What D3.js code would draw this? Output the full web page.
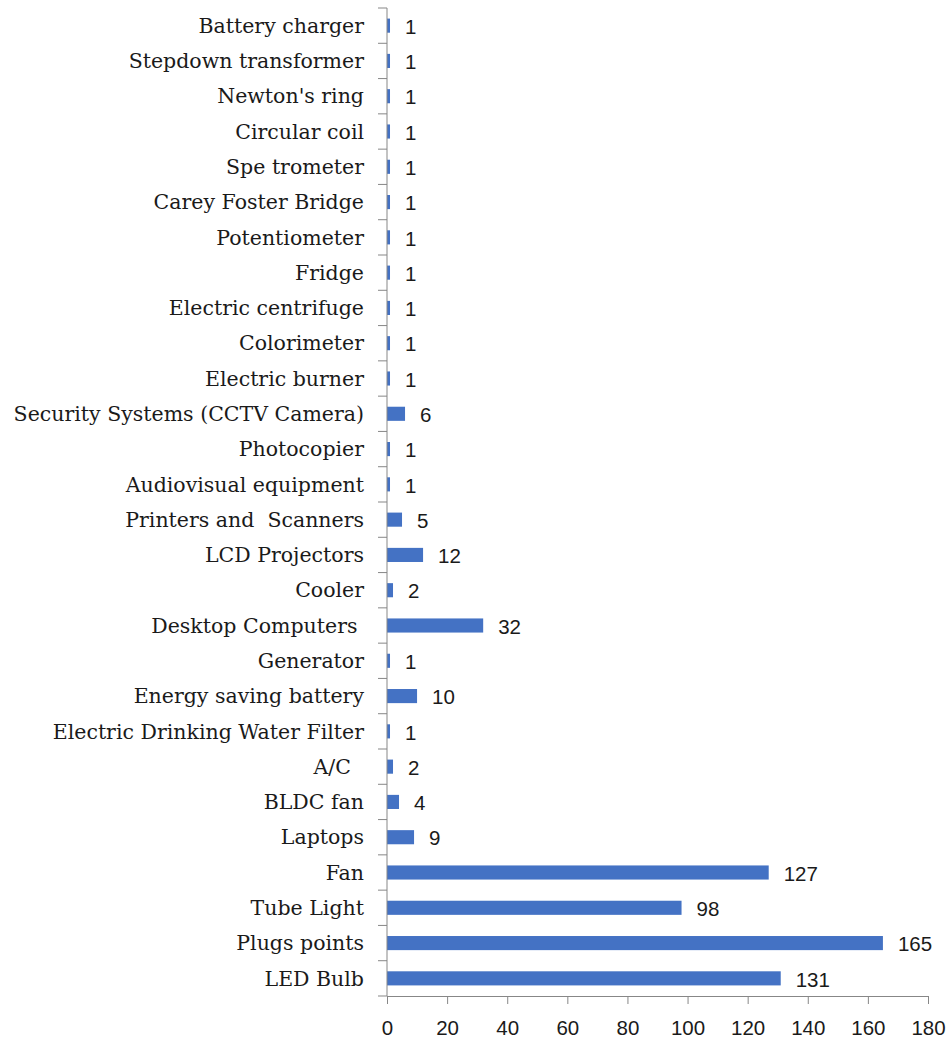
<!DOCTYPE html>
<html>
  <head>
    <meta charset="utf-8" />
    <style>
      body{
        margin: 0;
        background: white;
      }
      .cat-label{
        font-family: 'DejaVu Serif', serif;
        font-size: 20.5px;
        fill: #1a1a1a;
        white-space: pre;
      }
      .val-label, .tick-label{
        font-family: 'Liberation Sans', sans-serif;
        font-size: 20.5px;
        fill: #1a1a1a;
      }
    </style>
  </head>
  <body>
    <script src="https://d3js.org/d3.v7.min.js"></script>
    <svg id="chart"></svg>
    <script>
      var width = 951;
      var height = 1044;

      // bottom to top, as in the picture
      var categories = [
        "LED Bulb", "Plugs points", "Tube Light", "Fan", "Laptops", "BLDC fan",
        "A/C  ", "Electric Drinking Water Filter", "Energy saving battery",
        "Generator", "Desktop Computers ", "Cooler", "LCD Projectors",
        "Printers and  Scanners", "Audiovisual equipment", "Photocopier",
        "Security Systems (CCTV Camera)", "Electric burner", "Colorimeter",
        "Electric centrifuge", "Fridge", "Potentiometer", "Carey Foster Bridge",
        "Spe trometer", "Circular coil", "Newton's ring", "Stepdown transformer",
        "Battery charger"
      ];
      var values = [131, 165, 98, 127, 9, 4, 2, 1, 10, 1, 32, 2, 12, 5, 1, 1, 6,
        1, 1, 1, 1, 1, 1, 1, 1, 1, 1, 1];
      var xTicks = [0, 20, 40, 60, 80, 100, 120, 140, 160, 180];

      var margin = {left: 387, right: 23, top: 8, bottom: 48};

      var svg = d3.select("#chart")
        .attr("width", width)
        .attr("height", height);

      var x = d3.scaleLinear()
        .domain([0, 180])
        .range([margin.left, width - margin.right]);

      var y = d3.scaleBand()
        .domain(categories.slice().reverse())
        .range([margin.top, height - margin.bottom])
        .paddingInner(0.6)
        .paddingOuter(0.3);

      var step = y.step();
      var axisColor = "#878787";

      // bars
      svg.selectAll(".bar")
        .data(categories)
        .enter()
        .append("rect")
        .attr("class", "bar")
        .attr("x", x(0))
        .attr("y", function (d) { return y(d); })
        .attr("width", function (d, i) { return x(values[i]) - x(0); })
        .attr("height", y.bandwidth())
        .attr("fill", "#4472C4");

      // y axis line + ticks between categories
      var yTop = margin.top, yBottom = height - margin.bottom;
      svg.append("line")
        .attr("x1", x(0)).attr("x2", x(0))
        .attr("y1", yTop).attr("y2", yBottom)
        .attr("stroke", axisColor).attr("stroke-width", 1);

      svg.selectAll(".ytick")
        .data(d3.range(categories.length + 1))
        .enter()
        .append("line")
        .attr("x1", x(0) - 9).attr("x2", x(0))
        .attr("y1", function (i) { return yTop + i * step; })
        .attr("y2", function (i) { return yTop + i * step; })
        .attr("stroke", axisColor);

      // x axis
      var xAxis = d3.axisBottom(x)
        .tickValues(xTicks)
        .tickSize(8)
        .tickSizeOuter(0);

      var gx = svg.append("g")
        .attr("transform", "translate(0," + yBottom + ")")
        .call(xAxis);
      gx.select(".domain").attr("stroke", axisColor);
      gx.selectAll(".tick line").attr("stroke", axisColor);
      gx.selectAll(".tick text")
        .attr("class", "tick-label")
        .attr("y", 32)
        .attr("dy", "0.35em");
      gx.attr("font-family", null).attr("font-size", null);

      // category labels
      svg.selectAll(".cat-label")
        .data(categories)
        .enter()
        .append("text")
        .attr("class", "cat-label")
        .attr("x", x(0) - 23)
        .attr("y", function (d) { return y(d) + y.bandwidth() / 2; })
        .attr("dy", "0.35em")
        .attr("text-anchor", "end")
        .text(function (d) { return d; });

      // value labels
      svg.selectAll(".val-label")
        .data(categories)
        .enter()
        .append("text")
        .attr("class", "val-label")
        .attr("x", function (d, i) { return x(values[i]) + 15; })
        .attr("y", function (d) { return y(d) + y.bandwidth() / 2 + 1; })
        .attr("dy", "0.35em")
        .text(function (d, i) { return values[i]; });
    </script>
  </body>
</html>
